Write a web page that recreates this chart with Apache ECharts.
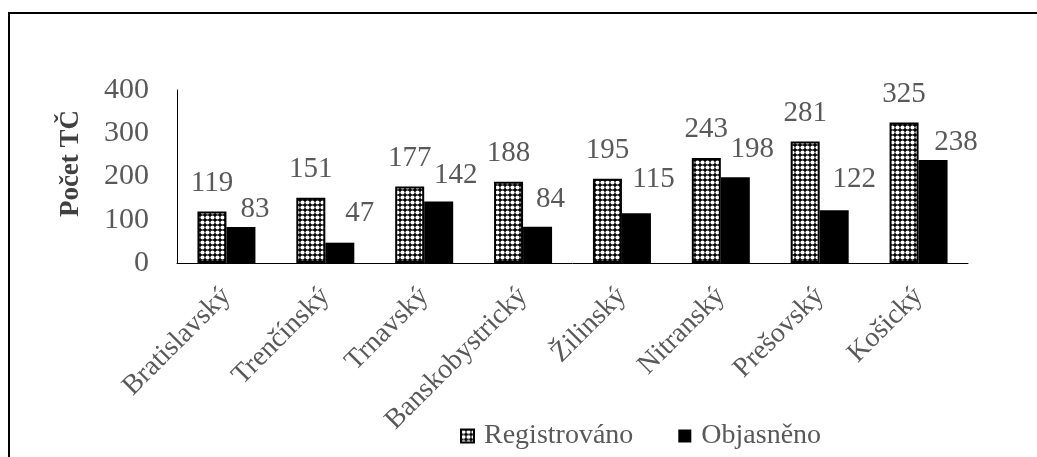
<!DOCTYPE html>
<html>
<head>
<meta charset="utf-8">
<script src="https://cdn.jsdelivr.net/npm/echarts@6/dist/echarts.min.js"></script>
<style>
  html, body { margin: 0; padding: 0; background: #fff; }
  #chart { width: 1037px; height: 457px; }
</style>
</head>
<body>
<div id="chart"></div>
<script>
// Regions and counts of criminal offences (TČ)
const categories = ['Bratislavský', 'Trenčínský', 'Trnavský', 'Banskobystrický', 'Žilinský', 'Nitranský', 'Prešovský', 'Košický'];
const registrovano = [119, 151, 177, 188, 195, 243, 281, 325];
const objasneno = [83, 47, 142, 84, 115, 198, 122, 238];
const seriesNames = ['Registrováno', 'Objasněno'];
const yTicks = { min: 0, max: 400, step: 100 };
const yTitle = 'Počet TČ';

// Hand-placed nudges [dx, dy] for the "Objasněno" value labels
const objLabelNudge = [[14, 11], [20, -1], [17, 2], [13, 1], [17, -5], [17, 1], [20, -2], [23, 11]];

// Checkered dot fill for the registered bars
function makeDotPattern() {
  const c = document.createElement('canvas');
  c.width = 5; c.height = 5;
  const g = c.getContext('2d');
  g.fillStyle = '#000';
  g.fillRect(0, 0, 5, 5);
  g.fillStyle = '#fff';
  g.beginPath();
  g.arc(2.5, 2.5, 2.1, 0, Math.PI * 2);
  g.fill();
  return c;
}

const FONT = '"Liberation Serif", "Times New Roman", serif';
const GREY = '#595959';

const chart = echarts.init(document.getElementById('chart'), null, { renderer: 'canvas' });

chart.setOption({
  animation: false,
  backgroundColor: '#fff',
  textStyle: { fontFamily: FONT },
  graphic: [{
    type: 'rect',
    shape: { x: 9, y: 13, width: 1100, height: 500 },
    style: { fill: 'none', stroke: '#000', lineWidth: 2 },
    silent: true
  }],
  grid: { left: 177, right: 69, top: 90, bottom: 194, containLabel: false },
  legend: {
    left: 455,
    top: 417,
    itemWidth: 13,
    itemHeight: 13,
    itemGap: 45,
    icon: 'rect',
    data: seriesNames,
    textStyle: { fontFamily: FONT, fontSize: 28, color: GREY, padding: [0, 0, 0, 5] }
  },
  xAxis: {
    type: 'category',
    data: categories,
    axisLine: { show: true, lineStyle: { color: '#000', width: 1 } },
    axisTick: { show: false },
    axisLabel: {
      interval: 0,
      rotate: 45,
      margin: 29,
      fontFamily: FONT,
      fontSize: 28,
      color: GREY
    }
  },
  yAxis: {
    type: 'value',
    min: yTicks.min,
    max: yTicks.max,
    interval: yTicks.step,
    name: yTitle,
    nameLocation: 'middle',
    nameGap: 92,
    nameRotate: 90,
    nameTextStyle: {
      fontFamily: FONT,
      fontSize: 27,
      fontWeight: 'bold',
      color: '#404040',
      padding: [0, 0, 0, 26]
    },
    splitLine: { show: false },
    axisTick: { show: false },
    axisLine: { show: true, lineStyle: { color: '#000', width: 1 } },
    axisLabel: { margin: 28, fontFamily: FONT, fontSize: 30, color: GREY }
  },
  series: [
    {
      name: seriesNames[0],
      type: 'bar',
      data: registrovano,
      barWidth: 29,
      barGap: '0%',
      itemStyle: {
        color: { image: makeDotPattern(), repeat: 'repeat' },
        borderColor: '#000',
        borderWidth: 2
      },
      label: {
        show: true,
        position: 'top',
        distance: 14,
        fontFamily: FONT,
        fontSize: 29,
        color: GREY
      }
    },
    {
      name: seriesNames[1],
      type: 'bar',
      data: objasneno.map((v, i) => ({
        value: v,
        label: { offset: objLabelNudge[i] }
      })),
      barWidth: 29,
      itemStyle: { color: '#000' },
      label: {
        show: true,
        position: 'top',
        distance: 14,
        fontFamily: FONT,
        fontSize: 29,
        color: GREY
      }
    }
  ]
});
</script>
</body>
</html>
